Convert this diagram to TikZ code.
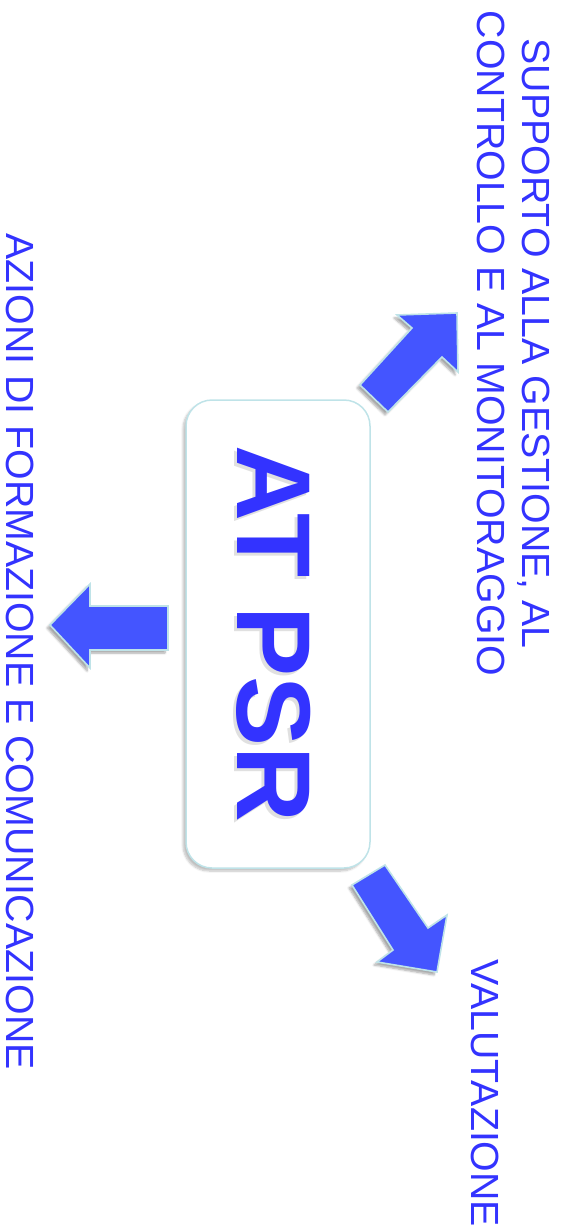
\documentclass[tikz,border=0pt]{standalone}
\usepackage{fontspec}
\setmainfont{Liberation Sans}
\usetikzlibrary{shadows.blur}
\definecolor{txtblue}{HTML}{3333FF}
\definecolor{arrblue}{HTML}{4455FF}
\definecolor{rimcyan}{HTML}{BFE3E8}
\tikzset{
  label/.style={text=txtblue, font=\fontsize{39.3}{44.5}\selectfont, rotate=-90, align=center, inner sep=0pt},
  bigarrow/.style={fill=arrblue, draw=rimcyan, line width=1.6pt, line join=miter,
    blur shadow={shadow xshift=-3pt, shadow yshift=-3pt, shadow blur steps=6, shadow opacity=35}},
  mainbox/.style={draw=rimcyan, line width=1.5pt, fill=white, rounded corners=26pt,
    blur shadow={shadow xshift=-3pt, shadow yshift=-3pt, shadow blur steps=6, shadow opacity=25}},
  titletext/.style={font=\bfseries\fontsize{105}{105}\selectfont, rotate=-90, inner sep=0pt},
}
\begin{document}
\begin{tikzpicture}[x=1pt,y=-1pt]
\useasboundingbox (0,0) rectangle (564,1229);
% central box
\draw[mainbox] (186,400) rectangle (370,868);
\node (titleshadow) [titletext, text=black!30, opacity=0.4] at (270.5,637) {AT PSR};
\node (title) [titletext, text=txtblue] at (274,634) {AT PSR};
% labels
\node (sup) [label] at (513.5,343.5) {SUPPORTO ALLA GESTIONE, AL\\CONTROLLO E AL MONITORAGGIO};
\node (az) [label] at (20.5,651.5) {AZIONI DI FORMAZIONE E COMUNICAZIONE};
\node (val) [label] at (485.5,1093.5) {VALUTAZIONE};
% arrows
\draw[bigarrow] (360,385) -- (412,328) -- (397,315) -- (457,313) -- (458,372) -- (442,357) -- (388,412) -- cycle;
\draw[bigarrow] (352,885) -- (385,865) -- (428,928) -- (447,915) -- (437,972) -- (377,962) -- (393,950) -- cycle;
\draw[bigarrow] (168,606) -- (90,606) -- (90,584) -- (50,625) -- (90,668) -- (90,650) -- (168,650) -- cycle;
\end{tikzpicture}
\end{document}
